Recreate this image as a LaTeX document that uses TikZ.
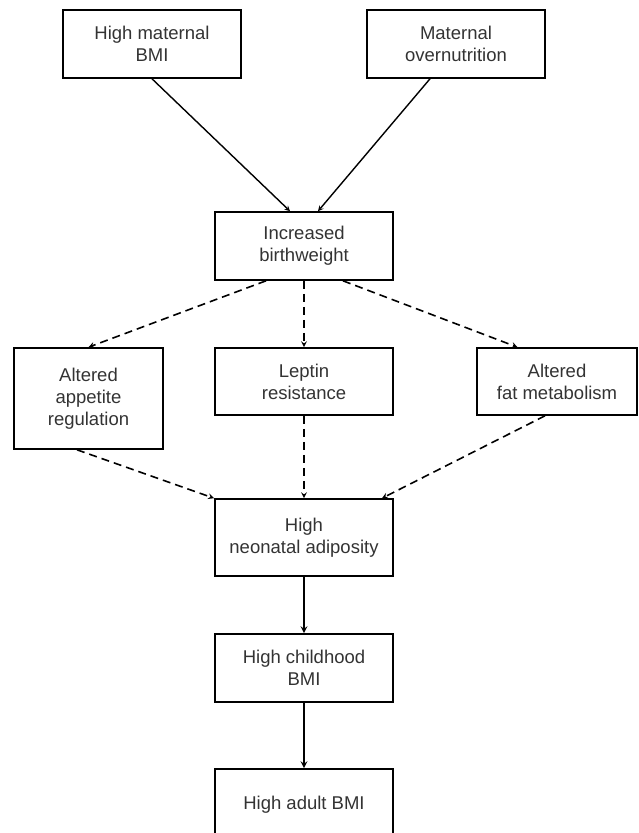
\documentclass[tikz,border=0pt]{standalone}
\usepackage{fontspec}
\setmainfont{Liberation Sans}
\usepackage{tikz}
\usetikzlibrary{arrows}

\tikzset{
  box/.style={draw, line width=1.6pt, align=center, text=black!80,
    font=\fontsize{18.5}{22}\selectfont, inner sep=2pt,
    minimum width=178pt, minimum height=68pt},
  dashline/.style={->, >=stealth, line width=1.6pt, dash pattern=on 8pt off 5pt}
}

\begin{document}
\begin{tikzpicture}[x=1pt, y=-1pt]
\useasboundingbox (0,0) rectangle (638,833);

\node[box] (1) at (152,44) {High maternal\\BMI};

\node[box] (2) at (456,44) {Maternal\\overnutrition};

\node[box] (3) at (304,246) {Increased\\birthweight};

\node[box, minimum width=149pt, minimum height=101pt] (4) at (88.5,398.5)
{Altered\\appetite\\regulation};

\node[box, minimum height=67pt] (5) at (304,381.5) {Leptin\\resistance};

\node[box, minimum width=160pt, minimum height=67pt] (6) at (557,381.5)
{Altered\\fat metabolism};

\node[box, minimum height=77pt] (7) at (304,537.5) {High\\neonatal adiposity};

\node[box] (8) at (304,668) {High childhood\\BMI};

\node[box, minimum height=72pt] (9) at (304,805) {High adult BMI};

\draw[->,>=stealth,line width=1.4pt] (1.south) -- ([xshift=-14pt]3.north);

\draw[->,>=stealth,line width=1.4pt] ([xshift=-26pt]2.south) -- ([xshift=14pt]3.north);

\draw[dashline] ([xshift=-38pt]3.south) -- (4.north);

\draw[dashline] (3.south) -- (5.north);

\draw[dashline] ([xshift=39pt]3.south) -- ([xshift=-39.5pt]6.north);

\draw[dashline] ([xshift=-11.5pt]4.south) -- ([xshift=-90pt]7.north);

\draw[dashline] (5.south) -- (7.north);

\draw[dashline] ([xshift=-12pt]6.south) -- ([xshift=78pt]7.north);

\draw[->,>=stealth,line width=2pt] (7.south) -- (8.north);

\draw[->,>=stealth,line width=2pt] (8.south) -- (9.north);
\end{tikzpicture}
\end{document}
